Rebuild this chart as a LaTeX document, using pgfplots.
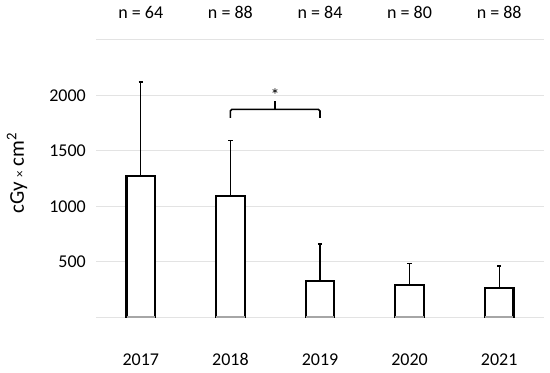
\documentclass[border=0pt]{standalone}
\usepackage{pgfplots}
\pgfplotsset{compat=1.18}
\usepackage{fontspec}
\setmainfont{Carlito}
\begin{document}
\begin{tikzpicture}[font=\fontsize{18bp}{21bp}\selectfont]
\begin{axis}[
  scale only axis,
  width=448bp, height=277.3bp,
  xmin=-0.5, xmax=4.5,
  ymin=0, ymax=2500,
  axis line style={draw=none},
  tick style={draw=none},
  major tick length=0pt,
  xtick={0,1,2,3,4},
  xticklabels={2017,2018,2019,2020,2021},
  ytick={0,500,1000,1500,2000,2500},
  yticklabels={{},500,1000,1500,2000,{}},
  ymajorgrids,
  grid style={gray!22, line width=1bp},
  /pgf/number format/assume math mode=true,
  xticklabel style={anchor=north, inner sep=0pt, text height=11.5bp, text depth=0pt, yshift=-36.5bp},
  yticklabel style={anchor=east, inner sep=0pt, xshift=-10bp},
  ylabel={cGy {\fontsize{13bp}{14bp}\selectfont ×} cm\textsuperscript{2}},
  ylabel style={at={(axis description cs:-0.176,0.52)}, anchor=center, font=\fontsize{21bp}{24bp}\selectfont},
  clip=false,
]
\addplot[ybar, bar width=0.318, fill=white, draw=black, line width=2.2bp,
  error bars/.cd, y dir=plus, y explicit,
  error bar style={line width=1.3bp, black},
  error mark options={rotate=90, mark size=2.2bp, line width=1.3bp, black}]
  coordinates {
  (0,1273) +- (0,849)
  (1,1095) +- (0,502)
  (2,327) +- (0,333)
  (3,291) +- (0,192)
  (4,261) +- (0,201)
  };
\pgfplotsinvokeforeach{0,1,2,3,4}{
  \draw[gray!70, line width=2.2bp] (axis cs:#1-0.159,0) -- (axis cs:#1+0.159,0);
}
\draw[black, line width=1.6bp, rounded corners=1.5bp] (axis cs:1,1798) -- (axis cs:1,1874) -- (axis cs:2,1874) -- (axis cs:2,1798);
\draw[black, line width=1.6bp] (axis cs:1.5,1874) -- (axis cs:1.5,1951);
\node[inner sep=0pt] at (axis cs:1.5,2000) {*};
\node[anchor=center, inner sep=0pt] at (axis cs:0,2500) [yshift=27.7bp] {n = 64};
\node[anchor=center, inner sep=0pt] at (axis cs:1,2500) [yshift=27.7bp] {n = 88};
\node[anchor=center, inner sep=0pt] at (axis cs:2,2500) [yshift=27.7bp] {n = 84};
\node[anchor=center, inner sep=0pt] at (axis cs:3,2500) [yshift=27.7bp] {n = 80};
\node[anchor=center, inner sep=0pt] at (axis cs:4,2500) [yshift=27.7bp] {n = 88};
\end{axis}
\pgfresetboundingbox
\path (-96bp,-55.7bp) rectangle (454bp,317.3bp);
\end{tikzpicture}
\end{document}
